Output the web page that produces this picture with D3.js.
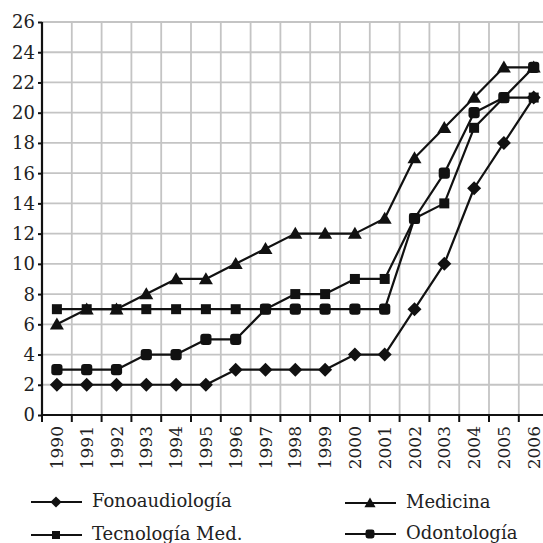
<!DOCTYPE html>
<html><head><meta charset="utf-8">
<script src="https://cdn.jsdelivr.net/npm/d3@7"></script>
<style>body{margin:0;background:#fff;overflow:hidden}</style>
</head><body><svg id="c" width="543" height="543"></svg>
<script>
const years = ["1990","1991","1992","1993","1994","1995","1996","1997","1998","1999","2000","2001","2002","2003","2004","2005","2006"];
const fonoaudiologia = [2,2,2,2,2,2,3,3,3,3,4,4,7,10,15,18,21];
const medicina       = [6,7,7,8,9,9,10,11,12,12,12,13,17,19,21,23,23];
const tecnologiaMed  = [7,7,7,7,7,7,7,7,8,8,9,9,13,14,19,21,21];
const odontologia    = [3,3,3,4,4,5,5,7,7,7,7,7,13,16,20,21,23];
const yTicks = [0,2,4,6,8,10,12,14,16,18,20,22,24,26];
const seriesNames = ["Fonoaudiología","Medicina","Tecnología Med.","Odontología"];

const FONT = "'DejaVu Serif', serif";
const svg = d3.select("#c");
const X0 = 42, BW = 29.8, Y0 = 415, YT = 22;
const x = d3.scaleBand().domain(years).range([X0, X0 + BW * years.length]).padding(0);
const y = d3.scaleLinear().domain([0, 26]).range([Y0, YT]);
const ink = "#111";

// grid
const g = svg.append("g");
g.selectAll(".hg").data(yTicks.filter(d => d > 0)).join("line")
  .attr("x1", X0).attr("x2", x.range()[1]).attr("y1", d => y(d)).attr("y2", d => y(d))
  .attr("stroke", "#c4c4c4").attr("stroke-width", 1.8);
const bounds = years.map(d => x(d) + x.bandwidth());
g.selectAll(".vg").data(bounds).join("line")
  .attr("x1", d => d).attr("x2", d => d).attr("y1", YT).attr("y2", Y0)
  .attr("stroke", "#c4c4c4").attr("stroke-width", 1.8);

// axes
const yAxis = d3.axisLeft(y).tickValues(yTicks).tickSize(4).tickFormat("");
const ya = svg.append("g").attr("transform", `translate(${X0},0)`).call(yAxis);
ya.select(".domain").attr("stroke", ink).attr("stroke-width", 2.2).attr("d", `M0,${YT}V${Y0}`);
ya.selectAll(".tick line").attr("stroke", ink).attr("stroke-width", 2);

const xa = svg.append("g").attr("transform", `translate(0,${Y0})`);
xa.append("line").attr("x1", X0 - 1).attr("x2", x.range()[1]).attr("y1", 0).attr("y2", 0)
  .attr("stroke", ink).attr("stroke-width", 2.2);
xa.selectAll(".xt").data([X0].concat(bounds)).join("line")
  .attr("x1", d => d).attr("x2", d => d).attr("y1", 0).attr("y2", 7)
  .attr("stroke", ink).attr("stroke-width", 2);

// y labels
svg.append("g").selectAll("text").data(yTicks).join("text")
  .attr("x", 35).attr("y", d => y(d))
  .attr("dy", "0.36em").attr("text-anchor", "end")
  .style("font-family", FONT).style("font-size", "18px").attr("fill", "#222")
  .text(d => d);

// x labels
svg.append("g").selectAll("text").data(years).join("text")
  .attr("transform", d => `translate(${x(d) + x.bandwidth() / 2},${Y0 + 11}) rotate(-90)`)
  .attr("dy", "0.36em").attr("text-anchor", "end")
  .style("font-family", FONT).style("font-size", "17px").attr("fill", "#222")
  .text(d => d);

// markers
function marker(sel, type, s) {
  if (type === "diamond") {
    const r = 7 * s;
    sel.append("path").attr("d", `M0,${-r}L${r},0L0,${r}L${-r},0Z`);
  } else if (type === "triangle") {
    const w = 7 * s;
    sel.append("path").attr("d", `M0,${-6.8 * s}L${w},${5.2 * s}L${-w},${5.2 * s}Z`);
  } else if (type === "square") {
    const h = 5 * s;
    sel.append("rect").attr("x", -h).attr("y", -h).attr("width", 2 * h).attr("height", 2 * h);
  } else {
    const h = 5.6 * s;
    sel.append("rect").attr("x", -h).attr("y", -h).attr("width", 2 * h).attr("height", 2 * h)
      .attr("rx", 3 * s).attr("ry", 3 * s);
  }
}

const series = [
  { name: seriesNames[1], values: medicina, type: "triangle" },
  { name: seriesNames[2], values: tecnologiaMed, type: "square" },
  { name: seriesNames[3], values: odontologia, type: "round" },
  { name: seriesNames[0], values: fonoaudiologia, type: "diamond" }
];
const cx = d => x(d) + x.bandwidth() / 2;
const line = d3.line().x((v, i) => cx(years[i])).y(v => y(v));

series.forEach(s => {
  const sg = svg.append("g");
  sg.append("path").attr("d", line(s.values)).attr("fill", "none")
    .attr("stroke", ink).attr("stroke-width", 2.2).attr("stroke-linejoin", "round");
  s.values.forEach((v, i) => {
    const m = sg.append("g").attr("transform", `translate(${cx(years[i])},${y(v)})`).attr("fill", ink);
    marker(m, s.type, 1);
  });
});

// legend
const legend = [
  { name: seriesNames[0], type: "diamond", lx: 31, ly: 502 },
  { name: seriesNames[1], type: "triangle", lx: 345, ly: 503 },
  { name: seriesNames[2], type: "square", lx: 31, ly: 535 },
  { name: seriesNames[3], type: "round", lx: 345, ly: 534 }
];
legend.forEach(l => {
  const lg = svg.append("g");
  lg.append("line").attr("x1", l.lx).attr("x2", l.lx + 51).attr("y1", l.ly).attr("y2", l.ly)
    .attr("stroke", ink).attr("stroke-width", 2);
  const m = lg.append("g").attr("transform", `translate(${l.lx + 25},${l.ly})`).attr("fill", ink);
  marker(m, l.type, 0.8);
  lg.append("text").attr("x", l.lx + 61).attr("y", l.ly + 5)
    .style("font-family", FONT).style("font-size", "18px").attr("fill", "#222")
    .text(l.name);
});
</script></body></html>
